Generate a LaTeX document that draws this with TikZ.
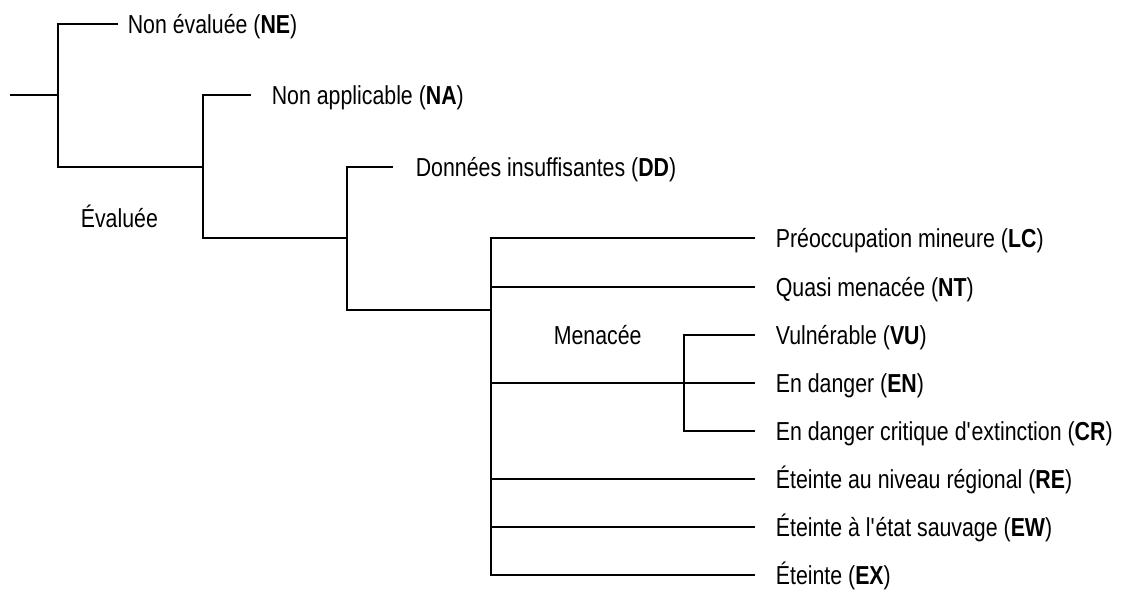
\documentclass[tikz,border=0pt]{standalone}
\usepackage{fontspec}
\setmainfont{Liberation Sans}[FakeStretch=0.82]
\begin{document}
\begin{tikzpicture}[x=1pt,y=-1pt,line width=1.7pt,
  lbl/.style={anchor=base west,inner sep=0pt,font=\fontsize{26}{30}\selectfont}]
\useasboundingbox (0,0) rectangle (1122,590);
% text nodes
\node[lbl] (ne) at (127,33.4) {Non évaluée (\textbf{NE})};
\node[lbl] (na) at (271,104.4) {Non applicable (\textbf{NA})};
\node[lbl] (dd) at (415,176.4) {Données insuffisantes (\textbf{DD})};
\node[lbl] (ev) at (80,227.4) {Évaluée};
\node[lbl] (lc) at (775,247.4) {Préoccupation mineure (\textbf{LC})};
\node[lbl] (nt) at (775,296.4) {Quasi menacée (\textbf{NT})};
\node[lbl] (me) at (553,344.4) {Menacée};
\node[lbl] (vu) at (775,344.4) {Vulnérable (\textbf{VU})};
\node[lbl] (en) at (775,392.4) {En danger (\textbf{EN})};
\node[lbl] (cr) at (775,440.4) {En danger critique d\textquotesingle extinction (\textbf{CR})};
\node[lbl] (re) at (775,488.4) {Éteinte au niveau régional (\textbf{RE})};
\node[lbl] (ew) at (775,536.4) {Éteinte à l\textquotesingle état sauvage (\textbf{EW})};
\node[lbl] (ex) at (775,584.4) {Éteinte (\textbf{EX})};
% junctions and line ends
\coordinate (r) at (10,95);
\coordinate (j1) at (58,95);
\coordinate (neE) at (118,24);
\coordinate (j2) at (203,167);
\coordinate (naE) at (251,95);
\coordinate (j3) at (347,238);
\coordinate (ddE) at (393,167);
\coordinate (j4) at (491,310);
\coordinate (j5) at (684,383);
\coordinate (lcE) at (755,238);
\coordinate (ntE) at (755,287);
\coordinate (vuE) at (755,335);
\coordinate (enE) at (755,383);
\coordinate (crE) at (755,431);
\coordinate (reE) at (755,479);
\coordinate (ewE) at (755,527);
\coordinate (exE) at (755,575);
% connectors
\draw (r) -- (j1);
\draw (neE) -| (j1) |- (j2);
\draw (naE) -| (j2) |- (j3);
\draw (ddE) -| (j3) |- (j4);
\draw (lcE) -| (j4) |- (exE);
\draw (ntE) -| (j4);
\draw (j4 |- j5) -- (enE);
\draw (reE) -| (j4);
\draw (ewE) -| (j4);
\draw (vuE) -| (j5) |- (crE);
\end{tikzpicture}
\end{document}
